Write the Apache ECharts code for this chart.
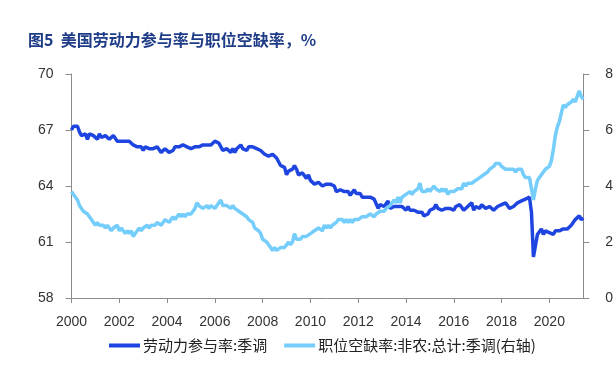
<!DOCTYPE html>
<html>
<head>
<meta charset="utf-8">
<script src="https://cdn.jsdelivr.net/npm/echarts@6/dist/echarts.min.js"></script>
<style>
html,body{margin:0;padding:0;background:#fff;}
#chart{width:616px;height:372px;}
</style>
</head>
<body>
<div id="chart"></div>
<script>
// Monthly categories: 2000-12 .. 2022-05
var startYear = 2000, startMonth = 12, pointCount = 258;
var categories = [];
for (var i = 0; i < pointCount; i++) {
  var m = startMonth - 1 + i;
  var y = startYear + Math.floor(m / 12);
  var mm = (m % 12) + 1;
  categories.push(y + '-' + (mm < 10 ? '0' + mm : mm));
}

var seriesNames = ['劳动力参与率:季调', '职位空缺率:非农:总计:季调(右轴)'];

// 劳动力参与率 (%), left axis
var participation = [
  67.0,
  67.2, 67.1, 67.2, 66.9, 66.7, 66.7, 66.8, 66.5, 66.8, 66.7, 66.7, 66.7,
  66.5, 66.8, 66.6, 66.7, 66.7, 66.6, 66.5, 66.6, 66.7, 66.6, 66.4, 66.4,
  66.4, 66.3, 66.4, 66.4, 66.4, 66.5, 66.2, 66.1, 66.1, 66.1, 66.1, 65.9,
  66.1, 66.0, 66.0, 65.9, 66.0, 66.1, 66.1, 66.0, 65.8, 65.9, 66.0, 65.9,
  65.8, 65.9, 65.9, 66.1, 66.1, 66.1, 66.1, 66.2, 66.1, 66.1, 66.0, 66.0,
  66.0, 66.1, 66.2, 66.1, 66.1, 66.2, 66.1, 66.2, 66.1, 66.2, 66.3, 66.4,
  66.4, 66.3, 66.2, 65.9, 66.0, 66.0, 66.0, 65.8, 66.0, 65.8, 66.0, 66.0,
  66.2, 66.0, 66.1, 65.9, 66.1, 66.1, 66.1, 66.1, 66.0, 66.0, 65.9, 65.8,
  65.7, 65.8, 65.6, 65.7, 65.7, 65.7, 65.5, 65.4, 65.1, 65.0, 65.0, 64.6,
  64.8, 64.9, 64.9, 65.1, 64.9, 64.6, 64.6, 64.7, 64.6, 64.4, 64.6, 64.3,
  64.2, 64.1, 64.2, 64.2, 64.1, 64.0, 64.0, 64.1, 64.2, 64.1, 64.1, 64.0,
  63.7, 63.8, 63.8, 63.7, 63.7, 63.8, 63.7, 63.5, 63.6, 63.8, 63.6, 63.7,
  63.6, 63.4, 63.3, 63.4, 63.4, 63.4, 63.4, 63.3, 63.2, 62.8, 63.0, 62.9,
  62.9, 63.0, 63.2, 62.8, 62.9, 62.9, 62.9, 62.9, 62.8, 62.9, 62.9, 62.7,
  62.9, 62.7, 62.7, 62.7, 62.8, 62.6, 62.6, 62.6, 62.4, 62.5, 62.5, 62.7,
  62.7, 62.8, 63.0, 62.8, 62.7, 62.7, 62.8, 62.8, 62.9, 62.8, 62.7, 62.7,
  62.9, 62.9, 63.0, 62.9, 62.7, 62.8, 62.9, 62.9, 63.1, 62.7, 62.9, 62.9,
  62.8, 63.0, 62.9, 62.8, 62.8, 62.9, 62.9, 62.7, 62.7, 62.9, 62.9, 63.0,
  63.1, 63.1, 63.0, 62.8, 62.9, 62.9, 63.0, 63.1, 63.1, 63.2, 63.2, 63.3,
  63.3, 63.4, 62.6, 60.2, 60.8, 61.4, 61.5, 61.7, 61.4, 61.6, 61.5, 61.5,
  61.4, 61.4, 61.6, 61.7, 61.6, 61.6, 61.7, 61.7, 61.7, 61.8, 61.9, 61.9,
  62.2, 62.3, 62.4, 62.2, 62.3
];

// 职位空缺率 (%), right axis
var openings = [
  3.8,
  3.7, 3.6, 3.5, 3.3, 3.2, 3.1, 3.1, 3.0, 2.9, 2.8, 2.7, 2.6,
  2.7, 2.6, 2.6, 2.6, 2.5, 2.6, 2.5, 2.4, 2.5, 2.5, 2.6, 2.4,
  2.5, 2.5, 2.3, 2.4, 2.3, 2.4, 2.2, 2.3, 2.3, 2.5, 2.4, 2.5,
  2.5, 2.6, 2.5, 2.6, 2.6, 2.6, 2.7, 2.7, 2.6, 2.7, 2.8, 2.8,
  2.7, 2.8, 2.9, 2.8, 2.9, 3.0, 2.9, 3.0, 2.9, 3.0, 3.0, 3.0,
  3.1, 3.2, 3.4, 3.3, 3.3, 3.2, 3.2, 3.3, 3.2, 3.3, 3.3, 3.2,
  3.3, 3.3, 3.5, 3.3, 3.3, 3.3, 3.3, 3.2, 3.3, 3.2, 3.2, 3.1,
  3.1, 3.0, 3.0, 2.9, 2.8, 2.8, 2.7, 2.5, 2.5, 2.4, 2.3, 2.1,
  2.1, 2.0, 1.9, 1.8, 1.7, 1.8, 1.7, 1.7, 1.8, 1.8, 1.8, 1.9,
  2.0, 1.9, 2.0, 2.3, 2.1, 2.1, 2.1, 2.2, 2.2, 2.2, 2.2, 2.3,
  2.3, 2.4, 2.4, 2.5, 2.5, 2.4, 2.6, 2.5, 2.6, 2.5, 2.6, 2.6,
  2.7, 2.8, 2.8, 2.8, 2.7, 2.8, 2.7, 2.8, 2.7, 2.8, 2.8, 2.8,
  2.8, 2.9, 2.9, 2.9, 2.9, 3.0, 3.0, 2.9, 3.0, 3.0, 3.1, 3.1,
  3.1, 3.2, 3.2, 3.3, 3.4, 3.5, 3.4, 3.6, 3.4, 3.6, 3.6, 3.7,
  3.7, 3.8, 3.7, 3.8, 3.8, 3.9, 4.1, 3.8, 3.8, 3.8, 3.9, 3.8,
  3.9, 4.0, 3.9, 3.9, 3.8, 3.9, 3.8, 3.9, 3.7, 3.8, 3.8, 3.8,
  3.8, 3.9, 3.9, 3.9, 4.1, 4.0, 4.1, 4.1, 4.1, 4.1, 4.2, 4.2,
  4.3, 4.3, 4.4, 4.4, 4.5, 4.6, 4.6, 4.7, 4.8, 4.8, 4.8, 4.7,
  4.7, 4.6, 4.6, 4.6, 4.6, 4.6, 4.5, 4.6, 4.6, 4.6, 4.4, 4.3,
  4.3, 4.3, 3.9, 3.5, 3.9, 4.2, 4.3, 4.4, 4.5, 4.6, 4.6, 4.7,
  4.9, 5.3, 5.8, 6.1, 6.3, 6.6, 6.9, 6.8, 6.9, 6.9, 7.0, 7.1,
  7.0, 7.2, 7.4, 7.2, 7.1
];

// tick labels
var leftTicks = {min: 58, max: 70, interval: 3};
var rightTicks = {min: 0, max: 8, interval: 2};
var labelEvery = 24;

var axisGray = '#8c8c8c';
var labelFont = 'Liberation Sans, Arial, sans-serif';
var cjkFont = '"Noto Sans CJK SC", sans-serif';

var chart = echarts.init(document.getElementById('chart'), null, {renderer: 'canvas'});
chart.setOption({
  animation: false,
  backgroundColor: '#ffffff',
  title: {
    text: '图5  美国劳动力参与率与职位空缺率，%',
    left: 23, top: 27,
    textStyle: {fontFamily: cjkFont, fontSize: 16, fontWeight: 'bold', color: '#1f3c88'}
  },
  legend: {
    left: 104, top: 333,
    itemWidth: 31, itemHeight: 4, itemGap: 17,
    icon: 'rect',
    textStyle: {fontFamily: cjkFont, fontSize: 15, color: '#222', padding: [0, 0, 0, -2]},
    data: seriesNames
  },
  grid: {left: 71.5, right: 20.5, top: 74, bottom: 74, containLabel: false},
  xAxis: {
    type: 'category',
    data: categories,
    boundaryGap: false,
    axisLine: {show: true, lineStyle: {color: axisGray, width: 1}},
    axisTick: {show: true, interval: labelEvery - 1, length: 5, lineStyle: {color: axisGray}},
    axisLabel: {
      interval: labelEvery - 1, margin: 17,
      fontFamily: labelFont, fontSize: 14, color: '#333',
      formatter: function (v) { return v.slice(0, 4); }
    },
    splitLine: {show: false}
  },
  yAxis: [
    {
      type: 'value', position: 'left',
      min: leftTicks.min, max: leftTicks.max, interval: leftTicks.interval,
      axisLine: {show: true, lineStyle: {color: axisGray}},
      axisTick: {show: true, length: 6, lineStyle: {color: axisGray}},
      axisLabel: {margin: 18, fontFamily: labelFont, fontSize: 14, color: '#333'},
      splitLine: {show: false}
    },
    {
      type: 'value', position: 'right',
      min: rightTicks.min, max: rightTicks.max, interval: rightTicks.interval,
      axisLine: {show: true, lineStyle: {color: axisGray}},
      axisTick: {show: true, length: 6, lineStyle: {color: axisGray}},
      axisLabel: {margin: 22, fontFamily: labelFont, fontSize: 14, color: '#333'},
      splitLine: {show: false}
    }
  ],
  series: [
    {
      name: seriesNames[0], type: 'line', yAxisIndex: 0,
      data: participation, showSymbol: false, symbol: 'none',
      lineStyle: {color: '#1f45e0', width: 3.5}, itemStyle: {color: '#1f45e0'}
    },
    {
      name: seriesNames[1], type: 'line', yAxisIndex: 1,
      data: openings, showSymbol: false, symbol: 'none',
      lineStyle: {color: '#74cdfa', width: 3.5}, itemStyle: {color: '#74cdfa'}
    }
  ]
});
</script>
</body>
</html>
